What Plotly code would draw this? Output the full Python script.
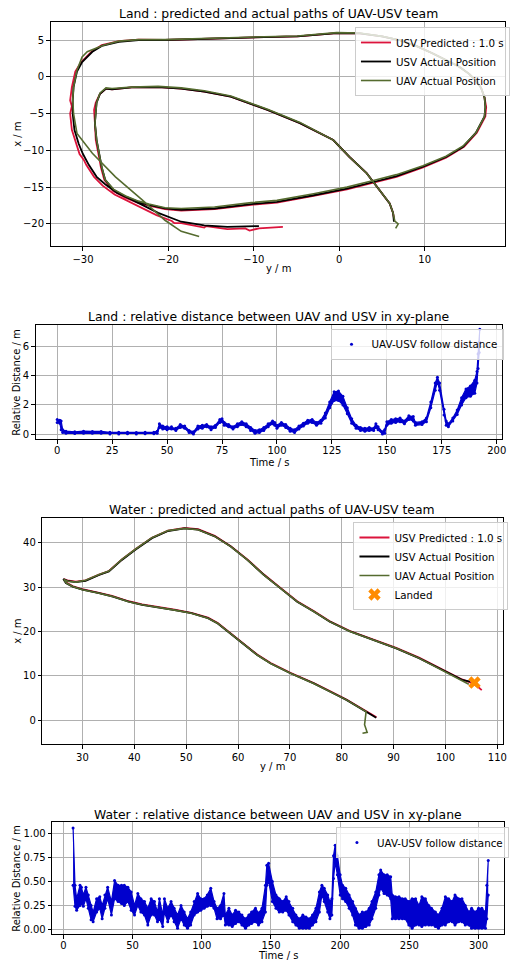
import plotly.graph_objects as go

W, H = 510, 961

# ---------------- Land : paths (horizontal = y / m, vertical = x / m) ----------------
land_pred_y = [6.4, 6.3, 5.9, 4.7, 3.2, 1.2, -0.7, -4.6, -8.4, -12.7, -15.8, -18.5, -21.2, -24.3, -26.6, -27.3,
               -28.0, -28.5, -28.7, -28.6, -28.5, -28.2, -27.9, -27.5, -26.5, -25.1, -23.6, -22.3, -20.4, -18.5,
               -16.6, -14.6, -10.3, -7.3, -3.0, 0.9, 4.0, 6.7, 9.8, 12.5, 14.6, 16.1, 17.1, 17.2, 17.0, 16.6, 15.9,
               15.2, 14.0, 12.5, 10.9, 9.0, 7.0, 5.0, 2.4, -0.3, -2.6, -4.9, -8.8, -12.7, -16.6, -20.4, -23.5,
               -25.8, -27.8, -29.0, -30.2, -30.9, -31.3, -31.5, -31.3, -31.5, -31.3, -30.8, -30.4, -29.9, -29.6,
               -28.7, -27.7, -26.3, -24.6, -23.0, -21.4, -19.6, -19.3, -18.5, -15.8, -15.6, -13.1, -11.0, -10.5,
               -9.4, -8.0, -6.6]
land_pred_x = [-19.2, -18.5, -17.2, -15.4, -13.1, -10.9, -8.6, -6.3, -4.5, -2.7, -2.0, -1.6, -1.4, -1.45, -1.7,
               -1.6, -2.3, -3.5, -4.5, -6.3, -8.6, -10.4, -12.3, -14.0, -15.5, -16.4, -17.1, -17.5, -18.0, -18.2,
               -18.1, -18.0, -17.4, -17.1, -16.2, -15.3, -14.4, -13.6, -12.3, -11.0, -9.5, -7.6, -5.4, -4.1,
               -2.8, -1.5, -0.4, 0.4, 1.4, 2.3, 3.2, 4.2, 5.0, 5.5, 5.9, 5.95, 5.75, 5.5, 5.4, 5.25, 5.1, 5.0,
               5.05, 4.85, 4.3, 3.4, 2.0, 0.7, -1.4, -3.2, -4.0, -5.0, -7.2, -9.1, -10.5, -11.3, -12.0, -13.6,
               -14.8, -16.0, -17.0, -17.9, -18.8, -19.6, -19.9, -19.9, -20.5, -20.3, -20.7, -20.6, -20.9, -20.6,
               -20.5, -20.4]

land_usv_y = [6.4, 6.3, 5.9, 4.7, 3.2, 1.2, -0.7, -4.6, -8.4, -12.7, -15.8, -18.5, -21.2, -24.3, -26.6, -27.3,
              -28.0, -28.4, -28.5, -28.6, -28.4, -28.1, -27.8, -27.4, -26.4, -25.0, -23.5, -22.3, -20.4, -18.5,
              -16.6, -14.6, -10.3, -7.3, -3.0, 0.9, 4.0, 6.7, 9.8, 12.5, 14.5, 16.0, 17.0, 17.1, 17.0, 16.6, 15.9,
              15.2, 14.0, 12.5, 10.9, 9.0, 7.0, 5.0, 2.4, -0.3, -2.6, -4.9, -8.8, -12.7, -16.6, -20.4, -23.5,
              -25.8, -27.8, -28.9, -30.1, -30.7, -31.1, -31.2, -31.2, -31.0, -30.5, -30.0, -29.3, -28.4, -27.4,
              -26.0, -24.3, -22.8, -21.2, -18.5, -15.8, -13.1, -11.0, -9.4]
land_usv_x = [-19.7, -18.5, -17.2, -15.4, -13.1, -10.9, -8.6, -6.3, -4.5, -2.7, -2.0, -1.6, -1.4, -1.45, -1.7, -1.6,
              -2.3, -3.5, -4.5, -6.3, -8.6, -10.4, -12.3, -14.0, -15.4, -16.3, -17.0, -17.4, -17.9, -18.1,
              -18.0, -17.9, -17.3, -17.0, -16.1, -15.2, -14.3, -13.5, -12.2, -10.9, -9.5, -7.6, -5.4, -4.1, -2.8,
              -1.5, -0.4, 0.4, 1.4, 2.3, 3.2, 4.2, 5.0, 5.5, 5.9, 5.95, 5.75, 5.5, 5.4, 5.25, 5.1, 5.0, 5.0,
              4.75, 4.2, 3.4, 2.0, 0.7, -1.4, -3.2, -5.0, -7.2, -9.1, -10.5, -12.0, -13.6, -14.6,
              -15.8, -16.7, -17.6, -18.5, -19.7, -20.2, -20.4, -20.4, -20.3]

land_uav_y = [6.6, 6.9, 6.5, 6.3, 5.9, 4.7, 3.2, 1.2, -0.7, -4.6, -8.4, -12.7, -15.8, -18.5, -21.2, -24.3, -26.6,
              -27.3, -28.0, -28.4, -28.5, -28.6, -28.4, -28.1, -27.8, -27.4, -26.4, -25.0, -23.5, -22.3, -20.4,
              -18.5, -16.6, -14.6, -10.3, -7.3, -3.0, 0.9, 4.0, 6.7, 9.8, 12.5, 14.5, 16.0, 17.0, 17.1, 17.0,
              16.6, 15.9, 15.2, 14.0, 12.5, 10.9, 9.0, 7.0, 5.0, 2.4, -0.3, -2.6, -4.9, -8.8, -12.7, -16.6,
              -20.4, -23.5, -25.8, -27.6, -28.5, -29.5, -30.1, -30.7, -31.1, -31.2, -31.1, -30.7, -28.9, -26.2,
              -23.1, -20.4, -18.5, -16.4]
land_uav_x = [-20.6, -20.0, -19.6, -18.5, -17.2, -15.4, -13.1, -10.9, -8.6, -6.2, -4.4, -2.6, -1.9, -1.5, -1.3,
              -1.4, -1.6, -1.5, -2.2, -3.5, -4.5, -6.3, -8.6, -10.4, -12.3, -14.0, -15.3, -16.2, -16.9, -17.3,
              -17.8, -17.9, -17.8, -17.7, -17.1, -16.8, -15.9, -15.0, -14.1, -13.3, -12.1, -10.8, -9.4, -7.6,
              -5.4, -4.1, -2.8, -1.5, -0.4, 0.4, 1.4, 2.3, 3.2, 4.2, 5.0, 5.5, 5.95, 6.0, 5.8, 5.55, 5.45, 5.3,
              5.15, 5.05, 5.05, 4.85, 4.3, 3.9, 3.4, 2.7, 0.9, -1.4, -3.2, -5.0, -7.7, -10.4, -13.6,
              -16.7, -19.5, -21.0, -21.7]

# ---------------- Land : relative distance ----------------
land_t = [0, 1.2, 1.8, 2.5, 4, 8, 12, 16, 20, 24, 28, 32, 36, 40, 44, 45.5, 46.5, 48, 50, 52, 54, 56, 58, 60, 62,
          64, 66, 68, 70, 72, 74, 75, 76, 78, 80, 82, 84, 86, 88, 90, 92, 94, 96, 98, 99, 100, 102, 104, 106,
          108, 110, 112, 114, 116, 118, 120, 122, 124, 126, 128, 130, 132, 134, 136, 138, 140, 142, 144, 145,
          146, 148, 149, 150, 152, 154, 156, 158, 160, 162, 163, 166, 168, 170, 172, 173, 174, 176, 177, 178,
          180, 182, 184, 186, 188, 190, 191, 191.5, 192, 192.3]
land_d_lo = [0.8, 0.75, 0.3, 0.1, 0.05, 0.03, 0.05, 0.05, 0.05, 0.0, 0.0, 0.02, 0.0, 0.02, 0.02, 0.05, 0.45, 0.35,
             0.3, 0.35, 0.25, 0.45, 0.4, 0.1, 0.0, 0.35, 0.4, 0.5, 0.3, 0.45, 0.8, 0.85, 0.6, 0.5, 0.35, 0.5,
             0.65, 0.5, 0.25, 0.05, 0.1, 0.25, 0.5, 0.7, 0.6, 0.4, 0.6, 0.45, 0.2, 0.1, 0.35, 0.55, 0.75, 0.8,
             0.6, 0.75, 1.1, 1.8, 2.3, 2.3, 2.0, 1.4, 0.75, 0.4, 0.25, 0.2, 0.25, 0.25, 0.45, 0.3, 0.0, 0.05,
             0.6, 0.75, 0.8, 0.85, 0.7, 1.0, 0.9, 0.6, 0.65, 0.85, 1.8, 3.0, 3.6, 3.0, 1.3, 0.6, 0.5, 0.9,
             1.35, 2.0, 2.5, 2.6, 2.8, 3.5, 4.5, 5.6, 6.3]
land_d_hi = [1.0, 0.95, 0.9, 0.3, 0.2, 0.15, 0.2, 0.18, 0.18, 0.12, 0.12, 0.12, 0.1, 0.12, 0.12, 0.2, 0.7, 0.55,
             0.5, 0.5, 0.4, 0.65, 0.55, 0.25, 0.15, 0.55, 0.6, 0.65, 0.5, 0.6, 1.0, 1.05, 0.8, 0.65, 0.5, 0.7,
             0.85, 0.7, 0.45, 0.25, 0.3, 0.45, 0.7, 0.9, 0.8, 0.6, 0.8, 0.65, 0.4, 0.3, 0.55, 0.75, 0.95, 1.0,
             0.8, 0.95, 1.45, 2.2, 2.9, 2.95, 2.6, 1.8, 1.05, 0.6, 0.45, 0.4, 0.45, 0.4, 0.7, 0.5, 0.15, 0.3,
             0.85, 1.0, 1.05, 1.1, 0.9, 1.25, 1.2, 0.8, 0.85, 1.1, 2.2, 3.5, 3.9, 3.5, 1.7, 0.9, 0.7, 1.1,
             1.65, 2.5, 3.1, 3.3, 3.7, 4.3, 5.5, 6.3, 7.2]

# ---------------- Water : paths ----------------
water_usv_y = [86.65, 84.7, 80.9, 77.7, 74.6, 70.1, 66.3, 63.7, 61.2, 58.6, 56.1, 54.2, 51.0, 47.8, 44.6, 41.5,
               38.9, 35.7, 33.2, 30.0, 28.1, 26.8, 26.3, 27.1, 28.7, 30.6, 33.2, 35.1, 37.6, 40.2, 43.4, 46.5,
               49.7, 52.3, 55.5, 58.6, 61.8, 65.0, 68.2, 71.4, 74.6, 77.7, 81.6, 86.0, 90.5, 94.9, 99.4, 103.2,
               104.8]
water_usv_x = [0.6, 1.95, 4.6, 6.5, 8.3, 10.6, 12.8, 14.7, 17.0, 19.6, 21.8, 23.0, 24.1, 24.8, 25.4, 26.0,
               26.7, 27.9, 28.6, 29.4, 30.1, 30.9, 31.8, 31.4, 31.1, 31.4, 32.7, 33.5, 36.1, 38.4, 41.0, 42.6,
               43.2, 42.9, 41.4, 39.1, 36.1, 32.7, 29.7, 26.7, 24.5, 22.2, 20.0, 18.1, 16.2, 14.0, 11.3, 9.1,
               8.7]

water_pred_y = [86.7, 84.7, 80.9, 77.7, 74.6, 70.1, 66.3, 63.7, 61.2, 58.6, 56.1, 54.2, 51.0, 47.8, 44.6, 41.5,
                38.9, 35.7, 33.2, 30.0, 28.1, 26.9, 26.4, 27.1, 28.7, 30.6, 33.2, 35.1, 37.6, 40.2, 43.4, 46.5,
                49.7, 52.3, 55.5, 58.6, 61.8, 65.0, 68.2, 71.4, 74.6, 77.7, 81.6, 86.0, 90.5, 94.9, 99.4, 103.2,
                105.0, 106.2, 107.0]
water_pred_x = [0.7, 2.05, 4.7, 6.6, 8.4, 10.7, 12.9, 14.8, 17.1, 19.7, 21.9, 23.1, 24.2, 24.9, 25.5, 26.1,
                26.8, 28.0, 28.7, 29.5, 30.2, 31.0, 31.8, 31.5, 31.2, 31.5, 32.8, 33.6, 36.2, 38.5, 41.1, 42.7,
                43.3, 43.0, 41.5, 39.2, 36.2, 32.8, 29.8, 26.8, 24.6, 22.3, 20.1, 18.2, 16.3, 14.1, 11.4, 9.2,
                8.4, 7.6, 6.8]

water_uav_y = [84.0, 84.9, 84.4, 84.7, 84.7, 80.9, 77.7, 74.6, 70.1, 66.3, 63.7, 61.2, 58.6, 56.1, 54.2, 51.0,
               47.8, 44.6, 41.5, 38.9, 35.7, 33.2, 30.0, 28.1, 26.9, 26.4, 27.2, 28.7, 30.6, 33.2, 35.1, 37.6,
               40.2, 43.4, 46.5, 49.7, 52.3, 55.5, 58.6, 61.8, 65.0, 68.2, 71.4, 74.6, 77.7, 81.6, 86.0, 90.5,
               94.9, 99.4, 103.2, 104.5]
water_uav_x = [-2.9, -2.7, -1.0, 1.6, 1.95, 4.6, 6.5, 8.3, 10.6, 12.8, 14.7, 17.0, 19.6, 21.8, 23.0, 24.1,
               24.8, 25.4, 26.0, 26.7, 27.9, 28.6, 29.4, 30.1, 30.9, 31.7, 31.3, 31.1, 31.5, 32.8, 33.6, 36.2,
               38.5, 41.1, 42.7, 43.2, 42.9, 41.4, 39.1, 36.1, 32.7, 29.7, 26.7, 24.5, 22.2, 20.0, 18.1, 16.2,
               14.0, 11.3, 9.0, 8.1]

landed_y = [105.6]
landed_x = [8.5]

# ---------------- Water : relative distance ----------------
water_t = [7.0, 8.4, 9.6, 12, 13, 14.4, 16.3, 18, 20, 21.5, 24, 26.3, 28, 30, 32, 34.7, 37, 39.5, 42, 44, 46.6,
           49, 51.4, 53.8, 56, 58.6, 61, 63.4, 65.8, 68, 69.4, 71.8, 73, 75.4, 77.8, 80, 82.5, 85, 87.3, 89.7,
           92, 94.5, 97, 99.3, 101.7, 104, 106.5, 108.9, 111, 113.6, 116, 117, 119.6, 122, 124.4, 126.8, 129,
           131.6, 134, 136, 138.8, 141, 143.5, 146, 147, 148.3, 151, 153.6, 156, 158.5, 161, 163, 165.7, 168,
           170.5, 173, 175.3, 177.7, 180, 182.5, 185, 186.8, 188.5, 191, 192.6, 194, 195.2, 196.4, 198, 200,
           201.7, 204, 206.5, 209, 211, 213.7, 216, 218.5, 221, 223, 225.7, 228, 229.3, 231.7, 234, 236.5,
           237.6, 240, 242.5, 245, 247, 249.6, 252, 254.5, 257, 259, 261.6, 264, 266, 268.8, 271, 273.6, 276,
           278.4, 281, 283, 285.6, 288, 290.4, 293, 295, 297.6, 300, 302.4, 305, 306, 307]
water_d_lo = [0.46, 0.24, 0.20, 0.25, 0.27, 0.24, 0.32, 0.22, 0.10, 0.08, 0.18, 0.22, 0.11, 0.22, 0.32, 0.15,
              0.32, 0.29, 0.27, 0.25, 0.29, 0.20, 0.15, 0.25, 0.18, 0.15, 0.045, 0.15, 0.15, 0.08, 0.11, 0.03,
              0.18, 0.08, 0.15, 0.08, 0.01, 0.11, 0.045, 0.01, 0.045, 0.15, 0.18, 0.20, 0.22, 0.24, 0.25, 0.22,
              0.11, 0.11, 0.15, 0.045, 0.045, 0.03, 0.06, 0.08, 0.045, 0.01, 0.045, 0.06, 0.08, 0.045, 0.08,
              0.18, 0.46, 0.50, 0.29, 0.22, 0.18, 0.18, 0.20, 0.15, 0.08, 0.045, 0.01, 0.01, 0.01, 0.01, 0.045,
              0.08, 0.18, 0.36, 0.29, 0.18, 0.11, 0.15, 0.53, 0.70, 0.57, 0.36, 0.32, 0.29, 0.22, 0.15, 0.045,
              0.01, 0.01, 0.03, 0.045, 0.11, 0.22, 0.36, 0.43, 0.375, 0.36, 0.32, 0.11, 0.11, 0.11, 0.11, 0.11,
              0.045, 0.01, 0.045, 0.045, 0.03, 0.045, 0.045, 0.045, 0.03, 0.01, 0.045, 0.045, 0.08, 0.08, 0.045,
              0.08, 0.08, 0.045, 0.045, 0.01, 0.01, 0.01, 0.01, 0.01, 0.11, 0.36]
water_d_hi = [1.06, 0.46, 0.32, 0.46, 0.44, 0.36, 0.44, 0.36, 0.25, 0.18, 0.32, 0.34, 0.25, 0.36, 0.44, 0.29,
              0.51, 0.46, 0.46, 0.46, 0.44, 0.39, 0.25, 0.375, 0.32, 0.29, 0.22, 0.32, 0.29, 0.18, 0.32, 0.15,
              0.32, 0.22, 0.29, 0.22, 0.15, 0.25, 0.18, 0.11, 0.18, 0.29, 0.375, 0.32, 0.32, 0.36, 0.43, 0.29,
              0.22, 0.25, 0.375, 0.15, 0.22, 0.15, 0.20, 0.18, 0.15, 0.11, 0.15, 0.18, 0.22, 0.17, 0.22,
              0.46, 0.67, 0.69, 0.50, 0.36, 0.32, 0.29, 0.34, 0.29, 0.22, 0.15, 0.11, 0.15, 0.13, 0.11, 0.15,
              0.22, 0.39, 0.46, 0.43, 0.36, 0.29, 0.32, 0.77, 0.88, 0.77, 0.57, 0.46, 0.43, 0.36, 0.29, 0.22,
              0.15, 0.18, 0.18, 0.22, 0.29, 0.39, 0.57, 0.62, 0.57, 0.57, 0.55, 0.36, 0.34, 0.34, 0.32, 0.32,
              0.29, 0.32, 0.32, 0.25, 0.34, 0.32, 0.25, 0.22, 0.18, 0.15, 0.22, 0.34, 0.32, 0.29, 0.36,
              0.32, 0.32, 0.25, 0.18, 0.22, 0.18, 0.22, 0.22, 0.18, 0.46, 0.72]

# ---------------- Styling ----------------
RED = "#DC143C"
BLACK = "#000000"
GREEN = "#556B2F"
BLUE = "#0000CD"
ORANGE = "#FF8C00"
FONT = "DejaVu Sans"

fig = go.Figure()

# Land paths
fig.add_trace(go.Scatter(x=land_pred_y, y=land_pred_x, mode="lines", line=dict(color=RED, width=1.8),
                         name="USV Predicted : 1.0 s", xaxis="x", yaxis="y", legend="legend"))
fig.add_trace(go.Scatter(x=land_usv_y, y=land_usv_x, mode="lines", line=dict(color=BLACK, width=1.8),
                         name="USV Actual Position", xaxis="x", yaxis="y", legend="legend"))
fig.add_trace(go.Scatter(x=land_uav_y, y=land_uav_x, mode="lines", line=dict(color=GREEN, width=1.6),
                         name="UAV Actual Position", xaxis="x", yaxis="y", legend="legend"))


def add_band(t, lo, hi, xa, ya, leg):
    fig.add_trace(go.Scatter(x=t, y=lo, mode="lines", line=dict(color=BLUE, width=1.2),
                             showlegend=False, xaxis=xa, yaxis=ya, hoverinfo="skip"))
    fig.add_trace(go.Scatter(x=t, y=hi, mode="lines", line=dict(color=BLUE, width=1.2), fill="tonexty",
                             fillcolor=BLUE, showlegend=False, xaxis=xa, yaxis=ya, hoverinfo="skip"))
    fig.add_trace(go.Scatter(x=list(t) + list(t), y=list(lo) + list(hi), mode="markers",
                             marker=dict(color=BLUE, size=3, line=dict(width=0)),
                             name="UAV-USV follow distance", xaxis=xa, yaxis=ya, legend=leg))


add_band(land_t, land_d_lo, land_d_hi, "x2", "y2", "legend2")

# Water paths
fig.add_trace(go.Scatter(x=water_pred_y, y=water_pred_x, mode="lines", line=dict(color=RED, width=1.8),
                         name="USV Predicted : 1.0 s", xaxis="x3", yaxis="y3", legend="legend3"))
fig.add_trace(go.Scatter(x=water_usv_y, y=water_usv_x, mode="lines", line=dict(color=BLACK, width=1.8),
                         name="USV Actual Position", xaxis="x3", yaxis="y3", legend="legend3"))
fig.add_trace(go.Scatter(x=water_uav_y, y=water_uav_x, mode="lines", line=dict(color=GREEN, width=1.6),
                         name="UAV Actual Position", xaxis="x3", yaxis="y3", legend="legend3"))
fig.add_trace(go.Scatter(x=landed_y, y=landed_x, mode="markers",
                         marker=dict(symbol="x", size=11, color=ORANGE, line=dict(width=0)),
                         name="Landed", xaxis="x3", yaxis="y3", legend="legend3"))

add_band(water_t, water_d_lo, water_d_hi, "x4", "y4", "legend4")


def ax(domain, rng, **kw):
    d = dict(domain=domain, range=rng, showgrid=True, gridcolor="#b0b0b0", gridwidth=0.8,
             showline=True, linecolor="black", linewidth=1, mirror=True, ticks="outside",
             ticklen=3.5, tickwidth=0.8, tickcolor="black", zeroline=False,
             ticklabeloverflow="allow",
             tickfont=dict(family=FONT, size=10, color="black"))
    d.update(kw)
    return d


def fx(p):
    return p / W


def fy(p):
    return 1 - p / H


# axes pixel boxes (left, right, top, bottom)
B1 = (51, 510, 22, 246)
B2 = (36, 507, 325, 439)
B3 = (42.7, 508, 517.7, 744)
B4 = (52.7, 509, 821.7, 934.3)

layout = dict(
    width=W, height=H, margin=dict(l=0, r=0, t=0, b=0),
    paper_bgcolor="white", plot_bgcolor="white",
    font=dict(family=FONT, size=10, color="black"),
    xaxis=ax([fx(B1[0]), fx(B1[1])], [-33.8, 19.4], anchor="y", tickvals=[-30, -20, -10, 0, 10]),
    yaxis=ax([fy(B1[3]), fy(B1[2])], [-23.0, 7.45], anchor="x", tickvals=[-20, -15, -10, -5, 0, 5]),
    xaxis2=ax([fx(B2[0]), fx(B2[1])], [-9.8, 202.4], anchor="y2", dtick=25, tick0=0, ticklabelstandoff=-2),
    yaxis2=ax([fy(B2[3]), fy(B2[2])], [-0.34, 7.49], anchor="x2", dtick=2, tick0=0),
    xaxis3=ax([fx(B3[0]), fx(B3[1])], [22.25, 111.1], anchor="y3", dtick=10, tick0=0),
    yaxis3=ax([fy(B3[3]), fy(B3[2])], [-5.33, 45.6], anchor="x3", dtick=10, tick0=0),
    xaxis4=ax([fx(B4[0]), fx(B4[1])], [-8.1, 318.4], anchor="y4", dtick=50, tick0=0, ticklabelstandoff=-2),
    yaxis4=ax([fy(B4[3]), fy(B4[2])], [-0.052, 1.125], anchor="x4", dtick=0.25, tick0=0, tickformat=".2f"),
)

leg_common = dict(bgcolor="rgba(255,255,255,0.8)", bordercolor="#cccccc", borderwidth=1,
                  font=dict(family=FONT, size=10.3, color="black"), xanchor="right", yanchor="top",
                  tracegroupgap=0, itemwidth=30, traceorder="normal")
layout["legend"] = dict(leg_common, x=fx(515), y=fy(27))
layout["legend2"] = dict(leg_common, x=fx(508.5), y=fy(328.7))
layout["legend3"] = dict(leg_common, x=fx(513.5), y=fy(522))
layout["legend4"] = dict(leg_common, x=fx(514), y=fy(827))

fig.update_layout(**layout)

ann = []


def text(s, x, y, size, angle=0):
    ann.append(dict(text=s, x=fx(x), y=fy(y), xref="paper", yref="paper", showarrow=False,
                    xanchor="center", yanchor="middle", textangle=angle,
                    font=dict(family=FONT, size=size, color="black")))


# titles
text("Land : predicted and actual paths of UAV-USV team", 281, 13, 12.4)
text("Land : relative distance between UAV and USV in xy-plane", 271.5, 317, 12.4)
text("Water : predicted and actual paths of UAV-USV team", 275, 510, 12.4)
text("Water : relative distance between UAV and USV in xy-plane", 281, 814, 12.4)
# axis labels
text("y / m", 281, 268, 10)
text("x / m", 17, 134, 10, -90)
text("Time / s", 272, 462, 10)
text("Relative Distance / m", 16, 382, 10, -90)
text("y / m", 275, 766, 10)
text("x / m", 17, 631, 10, -90)
text("Time / s", 281, 955.5, 10)
text("Relative Distance / m", 16, 878, 10, -90)

fig.update_layout(annotations=ann)

fig.write_html("out.html", config={"displayModeBar": False},
               post_script="document.body.style.margin='0';document.body.style.overflow='hidden';")
